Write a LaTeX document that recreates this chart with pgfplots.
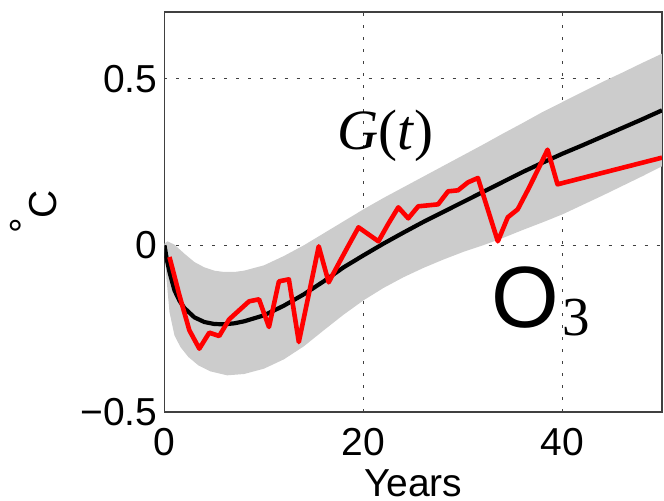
\documentclass[border=0pt]{standalone}
\usepackage{pgfplots}
\pgfplotsset{compat=1.18}
\usepackage{fontspec}
\setmainfont{Liberation Sans}
\newfontfamily\timesfont{Liberation Serif}
\definecolor{bandgray}{gray}{0.8}
\definecolor{axisgray}{gray}{0.25}

\begin{document}
\begin{tikzpicture}
\path[use as bounding box] (-164.5bp,-89bp) rectangle (499.5bp,412bp);
\begin{axis}[
  at={(0,0)}, anchor=south west,
  scale only axis, width=497.5bp, height=400bp,
  xmin=0, xmax=50, ymin=-0.5, ymax=0.7,
  xtick={0,20,40}, ytick={-0.5,0,0.5},
  xticklabels={0,20,40}, yticklabels={−0.5,0,0.5},
  major tick length=0pt,
  grid=major,
  grid style={axisgray, line width=1.2bp, dash pattern=on 3bp off 9bp},
  axis line style={axisgray, line width=1.4bp},
  ticklabel style={font=\fontsize{39bp}{47bp}\selectfont, inner sep=0pt},
  xticklabel style={anchor=north, yshift=-16bp},
  yticklabel style={anchor=east, xshift=-7bp},
]
% uncertainty band: upper edge left to right, lower edge back
\addplot[fill=bandgray, draw=none] coordinates {
  (0,0.005) (0.3,0.012) (1,0.002) (2,-0.025) (3,-0.05) (4,-0.066) (5,-0.076)
  (6,-0.08) (7,-0.08) (8,-0.076) (10,-0.06) (12,-0.032) (14,0.0) (16,0.036)
  (18,0.072) (20,0.108) (22,0.142) (24,0.174) (26,0.206) (28,0.238) (30,0.27)
  (32,0.302) (34,0.335) (36,0.367) (38,0.4) (40,0.43) (42,0.46) (44,0.49)
  (46,0.518) (48,0.547) (50,0.575)
  (50,0.237) (48,0.207) (46,0.178) (44,0.149) (42,0.121) (40,0.093) (38,0.069)
  (36,0.046) (34,0.022) (32,0.0) (30,-0.02) (28,-0.043) (26,-0.068) (24,-0.096)
  (22,-0.128) (20,-0.165) (18,-0.208) (16,-0.255) (14,-0.303) (12,-0.342)
  (10,-0.37) (8,-0.386) (6.3,-0.39) (4.6,-0.378) (3.4,-0.36) (2.4,-0.335)
  (1.6,-0.305) (1,-0.27) (0.5,-0.2) (0.2,-0.1) (0,-0.01)
} -- cycle;
% response function G(t)
\addplot[black, line width=4.2bp, line join=round] coordinates {
  (0,0) (0.25,-0.045) (0.5,-0.08) (1,-0.135) (1.5,-0.166) (2,-0.188) (3,-0.216)
  (4,-0.23) (5,-0.236) (6,-0.237) (7,-0.234) (8,-0.228) (10,-0.21) (12,-0.181)
  (14,-0.147) (16,-0.108) (18,-0.066) (20,-0.03) (22,0.005) (24,0.038) (26,0.07)
  (28,0.1) (30,0.13) (32,0.16) (34,0.19) (36,0.22) (38,0.248) (40,0.275)
  (42,0.3) (44,0.326) (46,0.352) (48,0.378) (50,0.405)
};
% annual model response
\addplot[red, line width=4.6bp, line join=round] coordinates {
  (0.5,-0.035) (1.5,-0.15) (2.5,-0.255) (3.5,-0.31) (4.5,-0.262) (5.5,-0.272)
  (6.5,-0.222) (7.5,-0.195) (8.5,-0.168) (9.5,-0.162) (10.5,-0.245)
  (11.5,-0.108) (12.5,-0.102) (13.5,-0.29) (14.5,-0.147) (15.5,-0.003)
  (16.5,-0.111) (17.5,-0.055) (18.5,0.0) (19.5,0.054) (20.5,0.033) (21.5,0.012)
  (22.5,0.065) (23.5,0.114) (24.5,0.081) (25.5,0.117) (26.5,0.12) (27.5,0.123)
  (28.5,0.162) (29.5,0.165) (30.5,0.189) (31.5,0.202) (32.5,0.107) (33.5,0.012)
  (34.5,0.084) (35.5,0.108) (36.5,0.165) (37.5,0.225) (38.5,0.287) (39.5,0.183)
  (50,0.263)
};
\end{axis}
% axis description and annotations
\node[anchor=base, rotate=90, inner sep=0pt] at (-107.5bp,200bp)
  {\fontsize{39bp}{47bp}\selectfont\raisebox{19bp}{°}C};
\node[anchor=base, inner sep=0pt] at (248.75bp,-84bp)
  {\fontsize{39bp}{47bp}\selectfont Years};
\node[anchor=base west, inner sep=0pt] at (172.5bp,262bp)
  {\timesfont\fontsize{57bp}{60bp}\selectfont\textit{G}(\textit{t})};
\node[anchor=base west, inner sep=0pt] at (326.5bp,84bp)
  {\fontsize{87bp}{90bp}\selectfont O\hspace{4bp}\raisebox{-8bp}{\timesfont\fontsize{55bp}{60bp}\selectfont 3}};
\end{tikzpicture}
\end{document}
